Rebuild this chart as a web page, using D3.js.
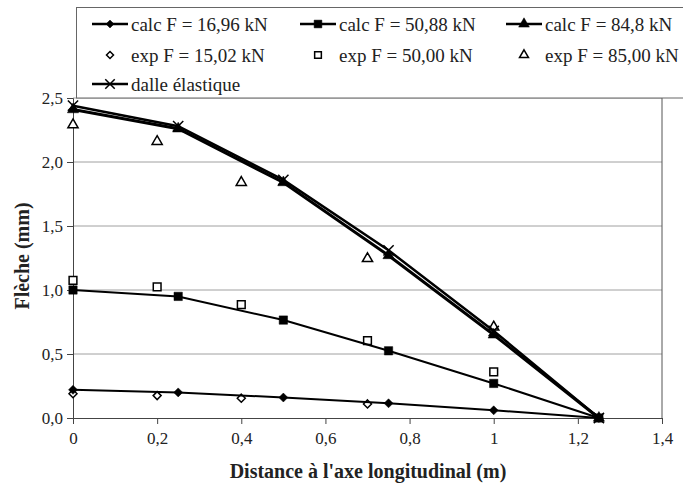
<!DOCTYPE html>
<html>
<head>
<meta charset="utf-8"/>
<script src="https://d3js.org/d3.v7.min.js"></script>
<style>
  body { margin: 0; background: white; }
</style>
</head>
<body>
<div id="chart"></div>
<script>
// data
var calcX = [0, 0.25, 0.5, 0.75, 1, 1.25];
var expX = [0, 0.2, 0.4, 0.7, 1];
var calc17 = [0.22, 0.20, 0.16, 0.115, 0.06, 0];
var calc51 = [1.0, 0.95, 0.765, 0.525, 0.27, 0];
var calc85 = [2.41, 2.26, 1.84, 1.27, 0.65, 0];
var dalle = [2.44, 2.28, 1.86, 1.31, 0.68, 0];
var exp15 = [0.19, 0.175, 0.155, 0.11, null];
var exp50 = [1.075, 1.025, 0.885, 0.605, 0.36];
var exp85 = [2.29, 2.16, 1.84, 1.245, 0.71];
var xTicks = [0, 0.2, 0.4, 0.6, 0.8, 1, 1.2, 1.4];
var yTicks = [0, 0.5, 1, 1.5, 2, 2.5];

var FONT = "Liberation Serif";
var W = 683, H = 486;
var svg = d3.select("#chart").append("svg").attr("width", W).attr("height", H)
  .attr("font-family", FONT);

var x = d3.scaleLinear().domain([0, 1.4]).range([73, 662]);
var y = d3.scaleLinear().domain([0, 2.5]).range([418, 98]);
var fmt = function(d){ return String(d).replace(".", ","); };

// grid
svg.append("g").selectAll("line").data(yTicks.slice(1)).enter().append("line")
  .attr("x1", x(0)).attr("x2", x(1.4))
  .attr("y1", function(d){ return y(d); }).attr("y2", function(d){ return y(d); })
  .attr("stroke", "#a0a0a0").attr("stroke-width", 1);
// right frame
svg.append("line").attr("x1", x(1.4)).attr("x2", x(1.4)).attr("y1", y(0)).attr("y2", y(2.5))
  .attr("stroke", "#555").attr("stroke-width", 1);

// axes
var xAxis = svg.append("g").attr("transform", "translate(0," + y(0) + ")")
  .call(d3.axisBottom(x).tickValues(xTicks).tickSize(6).tickPadding(8).tickFormat(function(d){ return fmt(d); }));
var yAxis = svg.append("g").attr("transform", "translate(" + x(0) + ",0)")
  .call(d3.axisLeft(y).tickValues(yTicks).tickSize(6).tickPadding(4)
    .tickFormat(function(d){ return d3.format(".1f")(d).replace(".", ","); }));
[xAxis, yAxis].forEach(function(a){
  a.attr("font-family", FONT);
  a.select(".domain").attr("stroke", "#444");
  a.selectAll(".tick line").attr("stroke", "#444");
  a.selectAll("text").attr("font-size", 17).attr("fill", "#222").attr("font-family", FONT);
});

// axis titles
svg.append("text").attr("x", 368).attr("y", 478).attr("text-anchor", "middle")
  .attr("font-size", 20).attr("font-weight", "bold").attr("fill", "#222").attr("font-family", FONT)
  .text("Distance à l'axe longitudinal (m)");
svg.append("text").attr("transform", "translate(29,256) rotate(-90)").attr("text-anchor", "middle")
  .attr("font-size", 20).attr("font-weight", "bold").attr("fill", "#222").attr("font-family", FONT)
  .text("Flèche (mm)");

// symbols
function diamondPath(r){ return "M0," + (-r) + "L" + r + ",0L0," + r + "L" + (-r) + ",0Z"; }
function shapePath(shape, size){
  if (shape == "diamond") return diamondPath(size);
  var t = {square: d3.symbolSquare, triangle: d3.symbolTriangle, cross: d3.symbolX}[shape];
  return d3.symbol().type(t).size(size)();
}

function calcSeries(vals, width, shape, size){
  var pts = calcX.map(function(d, i){ return [d, vals[i]]; });
  var g = svg.append("g");
  g.append("path").datum(pts)
    .attr("d", d3.line().x(function(d){ return x(d[0]); }).y(function(d){ return y(d[1]); }))
    .attr("fill", "none").attr("stroke", "#000").attr("stroke-width", width);
  g.selectAll("path.m").data(pts).enter().append("path").attr("class", "m")
    .attr("transform", function(d){ return "translate(" + x(d[0]) + "," + y(d[1]) + ")"; })
    .attr("d", shapePath(shape, size))
    .attr("fill", shape == "cross" ? "none" : "#000")
    .attr("stroke", "#000").attr("stroke-width", shape == "cross" ? 1.5 : 0.5);
}
function expSeries(vals, shape, size){
  var pts = expX.map(function(d, i){ return [d, vals[i]]; }).filter(function(d){ return d[1] != null; });
  svg.append("g").selectAll("path").data(pts).enter().append("path")
    .attr("transform", function(d){ return "translate(" + x(d[0]) + "," + y(d[1]) + ")"; })
    .attr("d", shapePath(shape, size))
    .attr("fill", "white").attr("stroke", "#000").attr("stroke-width", 1.5);
}

expSeries(exp15, "diamond", 4);
expSeries(exp50, "square", 60);
expSeries(exp85, "triangle", 45);
calcSeries(dalle, 2.5, "cross", 70);
calcSeries(calc85, 3, "triangle", 55);
calcSeries(calc51, 2, "square", 70);
calcSeries(calc17, 2, "diamond", 4.5);

// legend
var lg = svg.append("g");
lg.append("rect").attr("x", 76.5).attr("y", 7.5).attr("width", 640).attr("height", 90.5)
  .attr("fill", "white").attr("stroke", "#666").attr("stroke-width", 1);
var legend = [
  {t: "calc F = 16,96 kN", line: true, s: "diamond", sz: 4, fill: "#000", lx: 92, ly: 24},
  {t: "calc F = 50,88 kN", line: true, s: "square", sz: 60, fill: "#000", lx: 300, ly: 24},
  {t: "calc F = 84,8 kN", line: true, s: "triangle", sz: 50, fill: "#000", lx: 506, ly: 24},
  {t: "exp F = 15,02 kN", line: false, s: "diamond", sz: 3.5, fill: "white", lx: 92, ly: 55},
  {t: "exp F = 50,00 kN", line: false, s: "square", sz: 45, fill: "white", lx: 300, ly: 55},
  {t: "exp F = 85,00 kN", line: false, s: "triangle", sz: 35, fill: "white", lx: 506, ly: 55},
  {t: "dalle élastique", line: true, s: "cross", sz: 60, fill: "none", lx: 92, ly: 84}
];
legend.forEach(function(d){
  if (d.line) {
    lg.append("line").attr("x1", d.lx).attr("x2", d.lx + 36).attr("y1", d.ly).attr("y2", d.ly)
      .attr("stroke", "#000").attr("stroke-width", 2.5);
  }
  lg.append("path").attr("transform", "translate(" + (d.lx + 18) + "," + d.ly + ")")
    .attr("d", shapePath(d.s, d.sz))
    .attr("fill", d.fill).attr("stroke", "#000").attr("stroke-width", d.line ? (d.s == "cross" ? 1.5 : 0.5) : 1.5);
  lg.append("text").attr("x", d.lx + 39).attr("y", d.ly).attr("dy", "0.35em")
    .attr("font-size", 19).attr("fill", "#222").attr("font-family", FONT).text(d.t);
});
</script>
</body>
</html>
